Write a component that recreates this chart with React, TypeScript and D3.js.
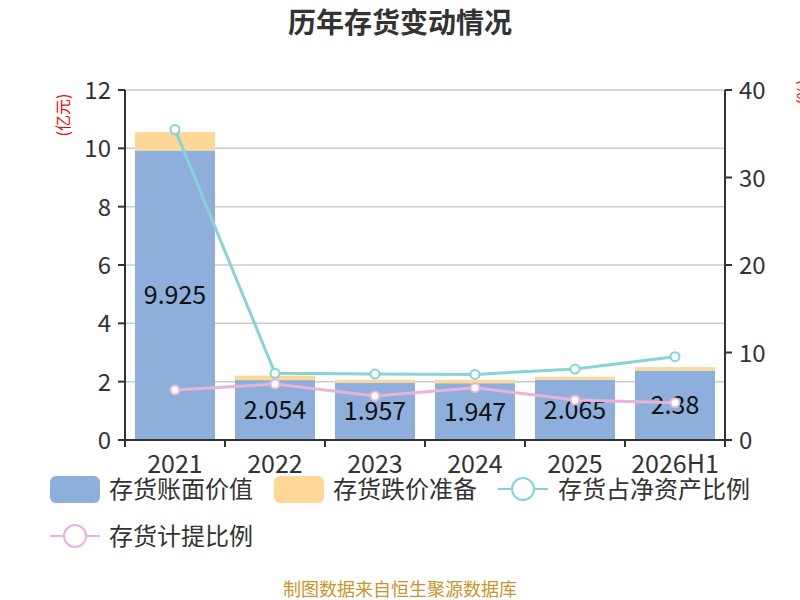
import React from "react";
import * as d3 from "d3";

const categories = ["2021", "2022", "2023", "2024", "2025", "2026H1"];
const bookValue = [9.925, 2.054, 1.957, 1.947, 2.065, 2.38];
const reserve = [0.63, 0.15, 0.11, 0.12, 0.1, 0.12];
const netAssetRatio = [35.5, 7.62, 7.54, 7.5, 8.11, 9.52];
const provisionRatio = [5.71, 6.4, 5.03, 5.98, 4.57, 4.27];
const leftTicks = [0, 2, 4, 6, 8, 10, 12];
const rightTicks = [0, 10, 20, 30, 40];

const BLUE = "#8eaedb";
const YELLOW = "#ffd897";
const CYAN = "#86d4d6";
const PINK = "#e8b4d8";
const FONT = "'Noto Sans CJK SC', 'Open Sans', sans-serif";

export default function App() {
  const W = 800, H = 600;
  const left = 125, right = 725, top = 90, bottom = 440;
  const x = d3.scaleBand().domain(categories).range([left, right]).paddingInner(0.2).paddingOuter(0.1);
  const xb = d3.scaleBand().domain(categories).range([left, right]);
  const yL = d3.scaleLinear().domain([0, 12]).range([bottom, top]);
  const yR = d3.scaleLinear().domain([0, 40]).range([bottom, top]);
  const cx = (c: string) => (xb(c) as number) + xb.bandwidth() / 2;
  const line = d3.line<number>().x((_, i) => cx(categories[i])).y((d) => yR(d));

  return (
    <svg width={W} height={H} style={{ position: "absolute", left: 0, top: 0 }} fontFamily={FONT}>
      <rect width={W} height={H} fill="#fff" />
      <text x={400} y={33} textAnchor="middle" fontSize={28} fontWeight="bold" fill="#333">历年存货变动情况</text>
      {leftTicks.map((t) => (
        <line key={"g" + t} x1={left} x2={right} y1={yL(t)} y2={yL(t)} stroke="#ccc" strokeWidth={1.5} />
      ))}
      {categories.map((c, i) => {
        const bx = x(c) as number;
        const bw = x.bandwidth();
        return (
          <g key={c}>
            <rect x={bx} width={bw} y={yL(bookValue[i])} height={yL(0) - yL(bookValue[i])} fill={BLUE} />
            <rect x={bx} width={bw} y={yL(bookValue[i] + reserve[i])} height={yL(bookValue[i]) - yL(bookValue[i] + reserve[i])} fill={YELLOW} />
          </g>
        );
      })}
      {categories.map((c, i) => (
        <text key={"l" + c} x={cx(c)} y={(yL(bookValue[i]) + yL(0)) / 2 + 9} textAnchor="middle" fontSize={25} fill="#111">
          {bookValue[i]}
        </text>
      ))}
      <path d={line(netAssetRatio) as string} fill="none" stroke={CYAN} strokeWidth={3} />
      <path d={line(provisionRatio) as string} fill="none" stroke={PINK} strokeWidth={3} />
      {netAssetRatio.map((v, i) => (
        <circle key={"c" + i} cx={cx(categories[i])} cy={yR(v)} r={4.5} fill="#fff" stroke={CYAN} strokeWidth={2} />
      ))}
      {provisionRatio.map((v, i) => (
        <circle key={"p" + i} cx={cx(categories[i])} cy={yR(v)} r={4.5} fill="#fff" stroke={PINK} strokeWidth={2} />
      ))}
      {/* axes */}
      <line x1={left} x2={left} y1={top} y2={bottom} stroke="#333" strokeWidth={2} />
      <line x1={right} x2={right} y1={top} y2={bottom} stroke="#333" strokeWidth={2} />
      <line x1={left} x2={right} y1={bottom} y2={bottom} stroke="#333" strokeWidth={2} />
      {leftTicks.map((t) => (
        <g key={"lt" + t}>
          <line x1={left - 7} x2={left} y1={yL(t)} y2={yL(t)} stroke="#333" strokeWidth={2} />
          <text x={left - 14} y={yL(t) + 9} textAnchor="end" fontSize={24} fill="#333">{t}</text>
        </g>
      ))}
      {rightTicks.map((t) => (
        <g key={"rt" + t}>
          <line x1={right} x2={right + 7} y1={yR(t)} y2={yR(t)} stroke="#333" strokeWidth={2} />
          <text x={right + 14} y={yR(t) + 9} textAnchor="start" fontSize={24} fill="#333">{t}</text>
        </g>
      ))}
      {categories.map((c) => (
        <line key={"xt" + c} x1={(xb(c) as number)} x2={(xb(c) as number)} y1={bottom} y2={bottom + 7} stroke="#333" strokeWidth={2} />
      ))}
      <line x1={right} x2={right} y1={bottom} y2={bottom + 7} stroke="#333" strokeWidth={2} />
      {categories.map((c) => (
        <text key={"xl" + c} x={cx(c)} y={473} textAnchor="middle" fontSize={25} fill="#333">{c}</text>
      ))}
      <text transform="translate(69,115) rotate(-90)" textAnchor="middle" fontSize={16} fill="red">(亿元)</text>
      <text transform="translate(809,92) rotate(-90)" textAnchor="middle" fontSize={16} fill="red">(%)</text>
      {/* legend */}
      <rect x={50} y={476} width={50} height={27} rx={6} fill={BLUE} />
      <text x={109} y={498} fontSize={24} fill="#333">存货账面价值</text>
      <rect x={274} y={476} width={50} height={27} rx={6} fill={YELLOW} />
      <text x={333} y={498} fontSize={24} fill="#333">存货跌价准备</text>
      <line x1={498} x2={548} y1={489} y2={489} stroke={CYAN} strokeWidth={2} />
      <circle cx={523} cy={489} r={11} fill="#fff" stroke={CYAN} strokeWidth={2} />
      <text x={558} y={498} fontSize={24} fill="#333">存货占净资产比例</text>
      <line x1={50} x2={100} y1={536} y2={536} stroke={PINK} strokeWidth={2} />
      <circle cx={75} cy={536} r={11} fill="#fff" stroke={PINK} strokeWidth={2} />
      <text x={109} y={545} fontSize={24} fill="#333">存货计提比例</text>
      <text x={400} y={596} textAnchor="middle" fontSize={18} fill="#c8962a">制图数据来自恒生聚源数据库</text>
    </svg>
  );
}
